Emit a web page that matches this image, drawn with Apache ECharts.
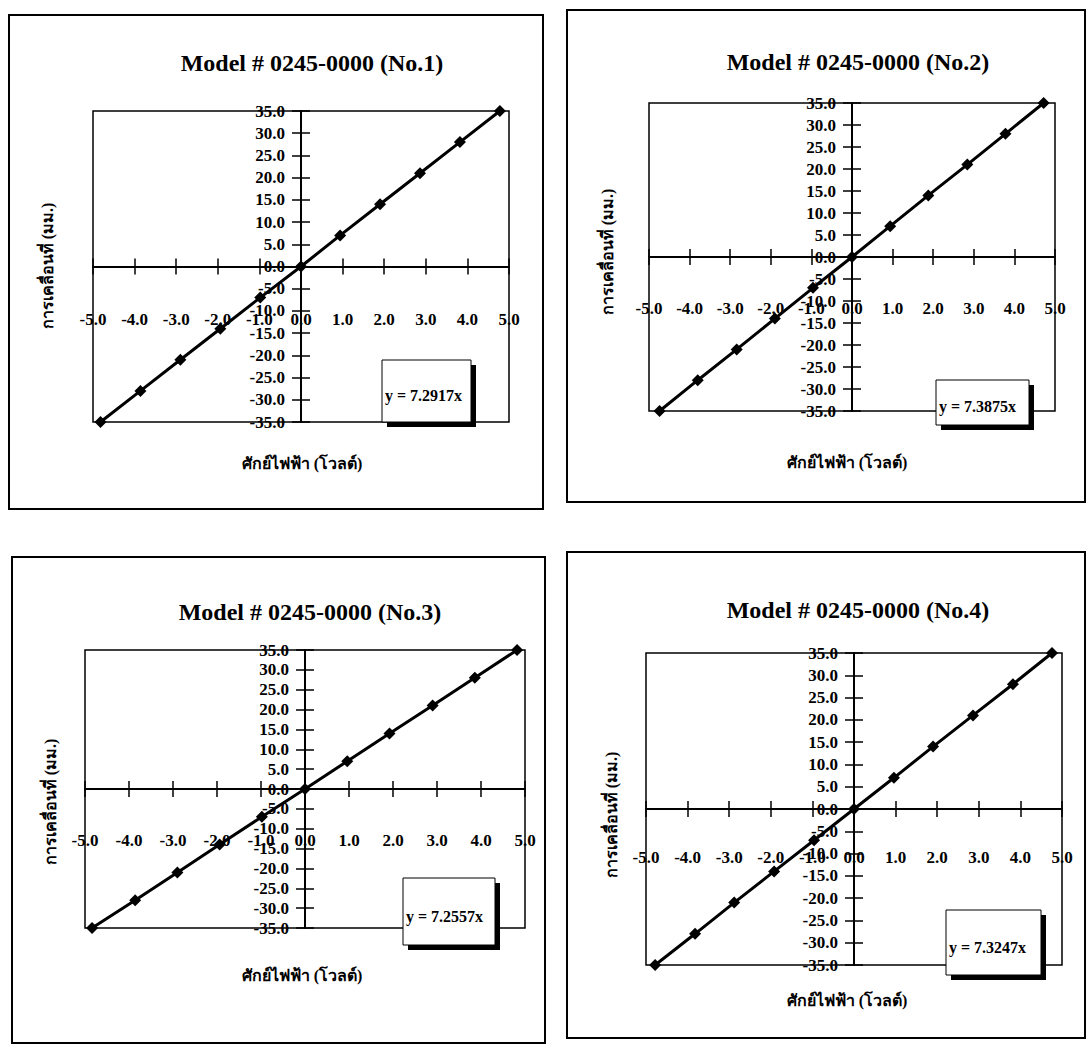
<!DOCTYPE html>
<html>
<head>
<meta charset="utf-8">
<script src="https://cdn.jsdelivr.net/npm/echarts@6/dist/echarts.min.js"></script>
<style>
  html, body { margin: 0; padding: 0; background: #fff; }
  #chart { width: 1089px; height: 1045px; }
</style>
</head>
<body>
<div id="chart"></div>
<script>
// Calibration data for four units of Model # 0245-0000:
// applied voltage (V) against measured displacement (mm).
const chartTitles = [
  'Model # 0245-0000 (No.1)',
  'Model # 0245-0000 (No.2)',
  'Model # 0245-0000 (No.3)',
  'Model # 0245-0000 (No.4)'
];
const displacementMm = [-35, -28, -21, -14, -7, 0, 7, 14, 21, 28, 35];
const voltageNo1 = [-4.82, -3.86, -2.90, -1.94, -0.98, 0, 0.94, 1.90, 2.86, 3.82, 4.78];
const voltageNo2 = [-4.74, -3.80, -2.84, -1.90, -0.96, 0, 0.94, 1.88, 2.84, 3.78, 4.72];
const voltageNo3 = [-4.84, -3.86, -2.90, -1.94, -0.98, 0, 0.96, 1.92, 2.90, 3.86, 4.82];
const voltageNo4 = [-4.78, -3.82, -2.88, -1.92, -0.96, 0, 0.96, 1.90, 2.86, 3.82, 4.76];
const trendSlopes = [7.2917, 7.3875, 7.2557, 7.3247];
const xAxisTitle = 'ศักย์ไฟฟ้า (โวลต์)';
const yAxisTitle = 'การเคลื่อนที่ (มม.)';
const xRange = [-5, 5];
const yRange = [-35, 35];

const voltages = [voltageNo1, voltageNo2, voltageNo3, voltageNo4];

// Page layout of the four framed panels (pixels).
const layout = [
  { panel: [9, 15, 534, 494],   grid: [93, 111, 416, 311],  title: [312, 63],  xName: [302, 463],  yName: [47, 266],  box: [382, 360, 89, 62], labelMargin: 44 },
  { panel: [567, 10, 518, 492], grid: [649, 103, 406, 308], title: [858, 62],  xName: [847, 462],  yName: [607, 252], box: [936, 380, 93, 45], labelMargin: 43 },
  { panel: [12, 557, 533, 486], grid: [85, 650, 440, 278],  title: [310, 612], xName: [302, 975],  yName: [50, 802],  box: [403, 878, 92, 67], labelMargin: 43 },
  { panel: [567, 552, 518, 486],grid: [646, 653, 416, 312], title: [858, 610], xName: [847, 1000], yName: [611, 815], box: [946, 910, 95, 65], labelMargin: 40 }
];

const SERIF = '"Liberation Serif", "Times New Roman", serif';
const THAI = '"Liberation Serif", "Noto Sans", "DejaVu Sans", sans-serif';

const grids = [], xAxes = [], yAxes = [], series = [], graphics = [];

layout.forEach((L, i) => {
  const [gl, gt, gw, gh] = L.grid;
  grids.push({
    left: gl, top: gt, width: gw, height: gh,
    show: true, borderColor: '#000', borderWidth: 1.5, backgroundColor: 'transparent'
  });

  const xi = xAxes.length, yi = yAxes.length;
  const tickLabel = { color: '#000', fontFamily: SERIF, fontWeight: 'bold', fontSize: 17 };
  // The axes cross at the centre of the symmetric ranges, so each axis is
  // shifted from its grid edge into the middle of the plot.
  const xOffset = -gh / 2, yOffset = -gw / 2;

  // main x axis (labels + outward ticks) and a twin with inward ticks, giving cross ticks
  xAxes.push({
    gridIndex: i, type: 'value', min: xRange[0], max: xRange[1], interval: 1,
    position: 'bottom', offset: xOffset,
    axisLine: { onZero: false, lineStyle: { color: '#000', width: 2 } },
    axisTick: { show: true, inside: false, length: 8, lineStyle: { color: '#000', width: 1.5 } },
    axisLabel: Object.assign({ margin: L.labelMargin, formatter: v => v.toFixed(1) }, tickLabel),
    splitLine: { show: false }
  });
  xAxes.push({
    gridIndex: i, type: 'value', min: xRange[0], max: xRange[1], interval: 1,
    position: 'bottom', offset: xOffset,
    axisLine: { show: false, onZero: false },
    axisTick: { show: true, inside: true, length: 8, lineStyle: { color: '#000', width: 1.5 } },
    axisLabel: { show: false }, splitLine: { show: false }
  });
  yAxes.push({
    gridIndex: i, type: 'value', min: yRange[0], max: yRange[1], interval: 5,
    position: 'left', offset: yOffset,
    axisLine: { onZero: false, lineStyle: { color: '#000', width: 2 } },
    axisTick: { show: true, inside: false, length: 9, lineStyle: { color: '#000', width: 1.5 } },
    axisLabel: Object.assign({ margin: 16, formatter: v => v.toFixed(1) }, tickLabel),
    splitLine: { show: false }
  });
  yAxes.push({
    gridIndex: i, type: 'value', min: yRange[0], max: yRange[1], interval: 5,
    position: 'left', offset: yOffset,
    axisLine: { show: false, onZero: false },
    axisTick: { show: true, inside: true, length: 9, lineStyle: { color: '#000', width: 1.5 } },
    axisLabel: { show: false }, splitLine: { show: false }
  });

  series.push({
    type: 'line', name: chartTitles[i], xAxisIndex: xi, yAxisIndex: yi,
    data: voltages[i].map((v, k) => [v, displacementMm[k]]),
    symbol: 'diamond', symbolSize: 12,
    lineStyle: { color: '#000', width: 3 },
    itemStyle: { color: '#000' },
    z: 5
  });

  // outer frame of the panel
  const [px, py, pw, ph] = L.panel;
  graphics.push({ type: 'rect', shape: { x: px, y: py, width: pw, height: ph },
    style: { fill: 'none', stroke: '#000', lineWidth: 2 }, z: 1 });

  // chart title
  graphics.push({ type: 'text', x: L.title[0], y: L.title[1], z: 10,
    style: { text: chartTitles[i], fill: '#000', font: 'bold 24px ' + SERIF, align: 'center', verticalAlign: 'middle' } });

  // axis titles
  graphics.push({ type: 'text', x: L.xName[0], y: L.xName[1], z: 10,
    style: { text: xAxisTitle, fill: '#000', font: 'bold 16px ' + THAI, align: 'center', verticalAlign: 'middle' } });
  graphics.push({ type: 'text', x: L.yName[0], y: L.yName[1], rotation: Math.PI / 2, z: 10,
    style: { text: yAxisTitle, fill: '#000', font: 'bold 16px ' + THAI, align: 'center', verticalAlign: 'middle' } });

  // trendline equation box with drop shadow
  const [bx, by, bw, bh] = L.box;
  graphics.push({ type: 'rect', shape: { x: bx + 5, y: by + 5, width: bw, height: bh },
    style: { fill: '#000' }, z: 20 });
  graphics.push({ type: 'rect', shape: { x: bx, y: by, width: bw, height: bh },
    style: { fill: '#fff', stroke: '#000', lineWidth: 1 }, z: 21 });
  graphics.push({ type: 'text', x: bx + 3, y: by + bh * 0.58, z: 22,
    style: { text: 'y = ' + trendSlopes[i].toFixed(4) + 'x', fill: '#000',
             font: 'bold 16px ' + SERIF, align: 'left', verticalAlign: 'middle' } });
});

const chart = echarts.init(document.getElementById('chart'), null, { renderer: 'svg' });
chart.setOption({
  animation: false,
  backgroundColor: '#fff',
  grid: grids,
  xAxis: xAxes,
  yAxis: yAxes,
  series: series,
  graphic: { elements: graphics }
});
</script>
</body>
</html>
